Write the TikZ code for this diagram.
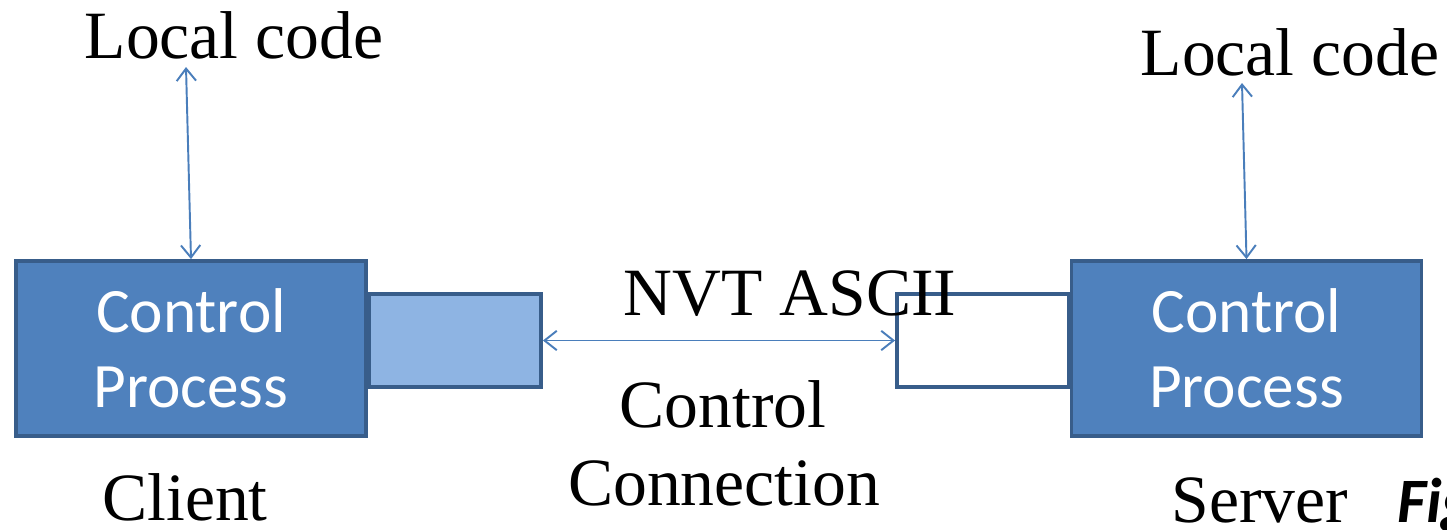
\documentclass[tikz,border=0pt]{standalone}
\usepackage{fontspec}
\setmainfont{Liberation Serif}
\newfontfamily\calibri{Carlito}
\usetikzlibrary{arrows.meta}
\definecolor{boxfill}{HTML}{4F81BD}
\definecolor{boxline}{HTML}{385D8A}
\definecolor{portfill}{HTML}{8EB4E3}
\definecolor{arrowcol}{HTML}{4A7EBB}
\begin{document}
\begin{tikzpicture}[x=0.02cm,y=-0.02cm,
  procbox/.style={draw=boxline, fill=boxfill, line width=2.2pt, minimum width=7cm, minimum height=3.5cm,
    text=white, font=\calibri\fontsize{36}{42.5}\selectfont, align=center, inner sep=0pt},
  portbox/.style={draw=boxline, line width=2.2pt, minimum width=3.44cm, minimum height=1.86cm, inner sep=0pt},
  lbl/.style={font=\fontsize{38.5}{44}\selectfont, anchor=base, inner sep=0pt},
  tip/.style={Straight Barb[length=7pt,width=11pt]},
  conn/.style={draw=arrowcol, line width=1.1pt, {Straight Barb[length=7pt,width=11pt]}-{Straight Barb[length=7pt,width=11pt]}}]
  \useasboundingbox (0,0) rectangle (1447,529);
  % ports
  \node[portbox, fill=portfill] (pl) at (455,340.5) {};
  \node[portbox, fill=white] (pr) at (983,340.5) {};
  % process boxes
  \node[procbox] (cl) at (191,348.5) {Control\\Process};
  \node[procbox] (cr) at (1246.5,348.5) {Control\\Process};
  % labels
  \node[lbl] (lcl) at (234,58) {Local code};
  \node[lbl] (lcr) at (1290,75) {Local code};
  \node[lbl] (nvt) at (790,315) {NVT ASCII};
  \node[lbl] (ctl) at (723,427) {Control};
  \node[lbl] (cnn) at (724,505) {Connection};
  \node[lbl] (cli) at (185,520) {Client};
  \node[lbl] (srv) at (1260,522) {Server};
  \node[anchor=base west, inner sep=0pt, font=\calibri\bfseries\itshape\fontsize{36}{42}\selectfont] (fig) at (1397,522) {Fig};
  % connectors
  \coordinate (lt) at (186,67);
  \coordinate (rt) at (1242,83);
  \draw[conn] (lt) -- (cl.north);
  \draw[conn] (rt) -- (cr.north);
  \draw[conn] (pl.east) -- (pr.west);
\end{tikzpicture}
\end{document}
